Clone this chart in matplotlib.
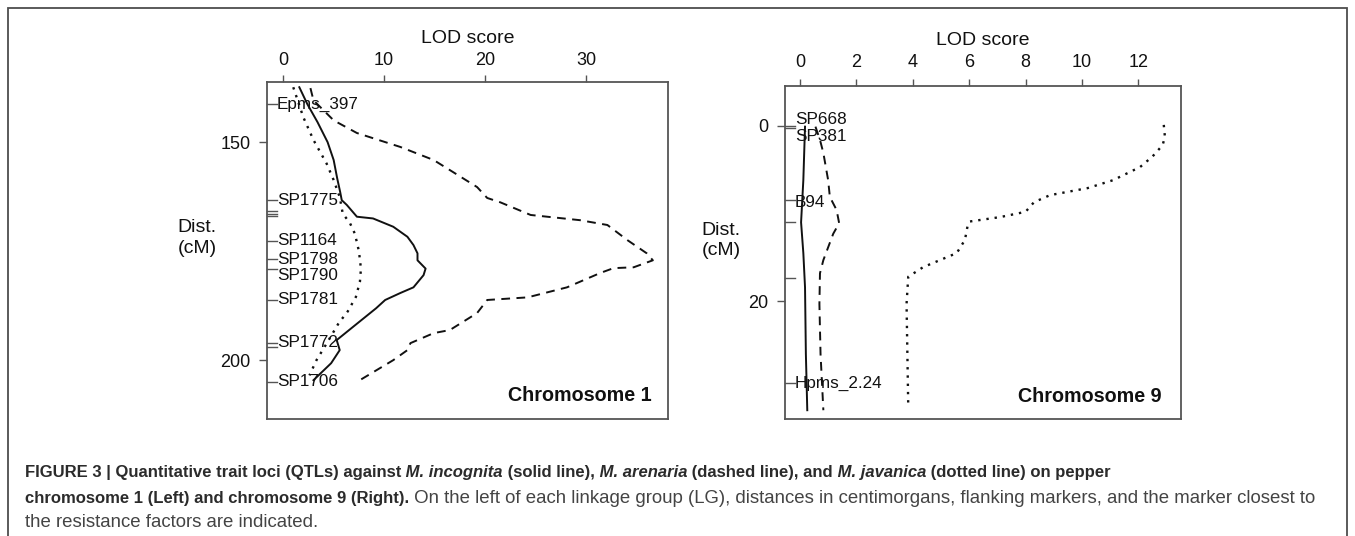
import matplotlib
matplotlib.use("Agg")
import matplotlib.pyplot as plt
import matplotlib.transforms as mtransforms
from matplotlib.patches import Rectangle

plt.rcParams['font.family'] = ['Liberation Sans', 'DejaVu Sans']

W, H = 1355, 536

# ---- chromosome 1 ----
chr1_markers = ["Epms_397", "SP1775", "SP1164", "SP1798", "SP1790", "SP1781", "SP1772", "SP1706"]
chr1_marker_pos = [141.3, 163.3, 172.6, 176.9, 179.0, 186.2, 196.1, 204.9]
chr1_label_pos = [141.3, 163.3, 172.6, 176.9, 180.6, 186.2, 195.9, 204.9]
chr1_extra_ticks = [165.8, 166.4, 167.0, 196.9]

chr1_solid_cm = [137.4, 141.3, 145.4, 150.0, 154.1, 158.3, 161.5, 163.3, 164.4, 167.1, 167.5,
                 169.4, 171.7, 173.6, 175.5, 177.1, 179.0, 180.5, 183.3, 184.6, 186.2, 188.1,
                 192.4, 195.4, 197.7, 200.7, 204.6]
chr1_solid_lod = [1.6, 2.4, 3.4, 4.4, 5.0, 5.35, 5.65, 5.8, 6.3, 7.3, 8.9,
                  10.9, 12.3, 12.9, 13.3, 13.3, 14.1, 13.9, 12.9, 11.6, 10.1, 9.2,
                  6.9, 5.3, 5.6, 4.75, 3.0]

chr1_dash_cm = [137.6, 140.4, 145.0, 147.9, 151.1, 154.1, 156.4, 160.3, 162.8, 163.8, 166.7,
                167.9, 169.0, 172.5, 175.5, 177.1, 178.7, 178.9, 180.0, 183.3, 185.6, 186.2,
                189.2, 193.1, 193.8, 196.1, 197.7, 200.0, 205.0]
chr1_dash_lod = [2.7, 3.0, 5.0, 7.3, 11.6, 14.9, 16.5, 19.2, 20.2, 21.5, 24.5,
                 29.4, 32.1, 34.1, 36.0, 36.6, 34.7, 32.7, 31.4, 28.1, 24.2, 20.2,
                 19.2, 16.5, 14.9, 12.6, 12.3, 10.9, 7.3]

chr1_dot_cm = [137.4, 144.3, 149.5, 154.9, 158.7, 162.6, 166.4, 168.5, 171.0, 175.0, 179.0,
               182.0, 185.5, 188.8, 191.5, 196.2, 200.0, 203.5]
chr1_dot_lod = [1.0, 2.0, 3.0, 4.3, 5.0, 5.6, 5.9, 6.6, 7.1, 7.5, 7.7,
                7.6, 7.2, 6.4, 5.5, 4.3, 3.3, 2.6]

# ---- chromosome 9 ----
chr9_markers = ["SP668", "SP381", "B94", "Hpms_2.24"]
chr9_marker_pos = [0.0, 0.3, 8.5, 29.3]
chr9_label_pos = [-0.7, 1.25, 8.7, 29.4]
chr9_extra_ticks = [11.0, 17.3]

chr9_solid_cm = [0.1, 6.2, 11.0, 14.5, 18.4, 26.0, 32.4]
chr9_solid_lod = [0.18, 0.12, 0.04, 0.12, 0.18, 0.21, 0.26]

chr9_dash_cm = [0.1, 1.6, 3.1, 6.2, 8.1, 9.6, 11.1, 12.3, 15.3, 16.8, 20.3, 26.0, 32.4]
chr9_dash_lod = [0.55, 0.71, 0.83, 1.0, 1.06, 1.3, 1.39, 1.18, 0.83, 0.71, 0.69, 0.73, 0.83]

chr9_dot_cm = [-0.1, 1.25, 2.2, 3.5, 4.7, 6.2, 7.1, 7.9, 8.7, 9.8, 10.4, 10.9, 11.3, 13.0,
               14.5, 16.1, 17.2, 20.3, 32.0]
chr9_dot_lod = [12.9, 12.94, 12.86, 12.5, 12.06, 11.1, 10.2, 8.87, 8.3, 8.0, 7.1, 6.03, 5.95,
                5.85, 5.56, 4.37, 3.84, 3.78, 3.84]

fig = plt.figure(figsize=(W / 100, H / 100), dpi=100)

# outer frame of the figure box
fig.patches.append(Rectangle((8 / W, -0.05), (1347 - 8) / W, 1.05 - 8 / H, transform=fig.transFigure,
                             fill=False, edgecolor='#4d4d4d', lw=1.3))

ax1 = fig.add_axes([267 / W, (H - 419) / H, 401 / W, 337 / H])
ax2 = fig.add_axes([785 / W, (H - 419) / H, 395.7 / W, 333 / H])

panels = [
    (ax1, (-1.6, 38.1), (213.5, 136.2), [0, 10, 20, 30], [150, 200],
     chr1_solid_lod, chr1_solid_cm, chr1_dash_lod, chr1_dash_cm, chr1_dot_lod, chr1_dot_cm,
     chr1_markers, chr1_marker_pos, chr1_label_pos, chr1_extra_ticks, "Chromosome 1", 197, 0.959,
     4.5, 6),
    (ax2, (-0.53, 13.5), (33.4, -4.53), [0, 2, 4, 6, 8, 10, 12], [0, 20],
     chr9_solid_lod, chr9_solid_cm, chr9_dash_lod, chr9_dash_cm, chr9_dot_lod, chr9_dot_cm,
     chr9_markers, chr9_marker_pos, chr9_label_pos, chr9_extra_ticks, "Chromosome 9", 721, 0.952,
     5.5, 7),
]

ink = '#111111'
for (ax, xl, yl, xt, yt, s_l, s_c, d_l, d_c, o_l, o_c,
     mk, mk_pos, lb_pos, extra, chrom, dist_x, chrom_x, xpad, lpad) in panels:
    ax.plot(s_l, s_c, color=ink, lw=1.4, ls='-')
    ax.plot(d_l, d_c, color=ink, lw=1.4, ls=(0, (4.5, 3.3)))
    ax.plot(o_l, o_c, color=ink, lw=1.7, ls=(0, (1, 2.5)))
    ax.set_xlim(*xl)
    ax.set_ylim(*yl)
    ax.xaxis.tick_top()
    ax.xaxis.set_label_position('top')
    ax.set_xticks(xt)
    ax.set_yticks(yt)
    ax.tick_params(axis='x', length=5, width=1, color='#555555', labelsize=13, pad=xpad, labelcolor=ink)
    ax.tick_params(axis='y', length=6, width=1, color='#555555', labelsize=13, pad=6, labelcolor=ink)
    ax.set_xlabel("LOD score", fontsize=14, labelpad=lpad, color=ink)
    for sp in ax.spines.values():
        sp.set_color('#555555')
        sp.set_linewidth(1.3)

    # marker ticks inside the left edge
    bt = mtransforms.blended_transform_factory(ax.transAxes, ax.transData)
    tick_len = 10 / (ax.get_position().width * W)
    for y in list(mk_pos) + list(extra):
        ax.plot([0, tick_len], [y, y], color='#555555', lw=1, transform=bt, clip_on=False)
    for name, y in zip(mk, lb_pos):
        ax.text(tick_len, y, name, transform=bt, fontsize=12.3, va='center', ha='left', color=ink)

    ax_left = ax.get_position().x0 * W
    ax.text((dist_x - ax_left) / (ax.get_position().width * W), 0.537, "Dist.\n(cM)",
            transform=ax.transAxes, fontsize=14, ha='center', va='center', color=ink,
            linespacing=1.25)
    ax.text(chrom_x, 0.069, chrom, transform=ax.transAxes, fontsize=14.2, fontweight='bold',
            ha='right', va='center', color=ink)

# caption with mixed styles
renderer = fig.canvas.get_renderer()
bold_size = 12.0
reg_size = 13.4


def rich_line(pieces, x0, y_base):
    x = x0
    for txt, weight, style, col in pieces:
        size = bold_size if weight == 'bold' else reg_size
        t = fig.text(x / W, 1 - y_base / H, txt, fontsize=size, fontweight=weight,
                     fontstyle=style, color=col, ha='left', va='baseline')
        x += t.get_window_extent(renderer).width


dark = '#2b2b2b'
grey = '#444444'
rich_line([
    ("FIGURE 3 | Quantitative trait loci (QTLs) against", 'bold', 'normal', dark),
    (" M. incognita", 'bold', 'italic', dark),
    (" (solid line),", 'bold', 'normal', dark),
    (" M. arenaria", 'bold', 'italic', dark),
    (" (dashed line), and", 'bold', 'normal', dark),
    (" M. javanica", 'bold', 'italic', dark),
    (" (dotted line) on pepper", 'bold', 'normal', dark),
], 25, 477)
rich_line([
    ("chromosome 1 (Left) and chromosome 9 (Right).", 'bold', 'normal', dark),
    (" On the left of each linkage group (LG), distances in centimorgans, flanking markers, "
     "and the marker closest to", 'normal', 'normal', grey),
], 25, 503)
rich_line([
    ("the resistance factors are indicated.", 'normal', 'normal', grey),
], 25, 527)

fig.savefig("out.png", dpi=100)
